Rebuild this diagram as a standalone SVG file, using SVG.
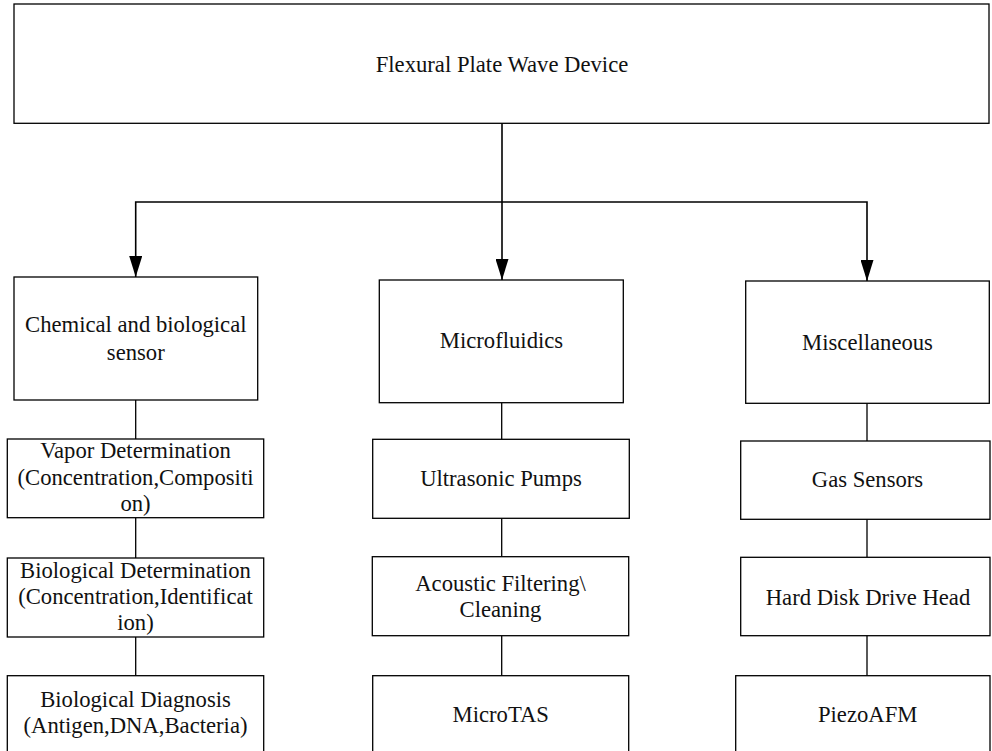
<svg xmlns="http://www.w3.org/2000/svg" width="992" height="751" viewBox="0 0 992 751">
  <style>
    .box { fill: #ffffff; stroke: #000000; stroke-width: 1.3; }
    .lbl { font-family: "Liberation Serif", "Times New Roman", serif; font-size: 22.67px; fill: #111111; text-anchor: middle; }
    .arr { fill: none; stroke: #000000; stroke-width: 1.6; }
    .ln { fill: none; stroke: #000000; stroke-width: 1.3; }
  </style>
  <defs>
    <marker id="ah" markerUnits="userSpaceOnUse" markerWidth="21" markerHeight="13" viewBox="0 0 21 13" refX="21" refY="6.5" orient="auto">
      <path d="M0,0 L21,6.5 L0,13 z" fill="#000000"/>
    </marker>
  </defs>
  <rect width="992" height="751" fill="#ffffff"/>

  <g id="connectors">
    <path class="arr" d="M502,123 V280" marker-end="url(#ah)"/>
    <path class="arr" d="M502,202 H135.7 V277" marker-end="url(#ah)"/>
    <path class="arr" d="M502,202 H867 V281" marker-end="url(#ah)"/>
    <path class="ln" d="M135.7,400 V439 M135.7,517.7 V558 M135.7,637 V675.7"/>
    <path class="ln" d="M501.7,402.7 V439.3 M501.7,518.3 V556.7 M501.7,635.7 V675.7"/>
    <path class="ln" d="M867,403.3 V441 M867,519.3 V557.3 M867,635.7 V675.7"/>
  </g>

  <g id="root">
    <rect class="box" x="14" y="4" width="975" height="119.3"/>
    <text class="lbl" x="502" y="71.7">Flexural Plate Wave Device</text>
  </g>

  <g id="chem">
    <rect class="box" x="14" y="277" width="243.7" height="123"/>
    <text class="lbl" x="135.8" y="332">Chemical and biological</text>
    <text class="lbl" x="135.8" y="360">sensor</text>
  </g>
  <g id="microfluidics">
    <rect class="box" x="379.3" y="280" width="244" height="122.7"/>
    <text class="lbl" x="501.5" y="348.3">Microfluidics</text>
  </g>
  <g id="misc">
    <rect class="box" x="745.7" y="281" width="243.6" height="122.3"/>
    <text class="lbl" x="867.5" y="350">Miscellaneous</text>
  </g>

  <g id="vapor">
    <rect class="box" x="7.3" y="439" width="256.4" height="78.7"/>
    <text class="lbl" x="135.5" y="458.3">Vapor Determination</text>
    <text class="lbl" x="135.5" y="484.7">(Concentration,Compositi</text>
    <text class="lbl" x="135.5" y="510.7">on)</text>
  </g>
  <g id="biodet">
    <rect class="box" x="7.3" y="558" width="256.4" height="79"/>
    <text class="lbl" x="135.5" y="578.3">Biological Determination</text>
    <text class="lbl" x="135.5" y="604.3">(Concentration,Identificat</text>
    <text class="lbl" x="135.5" y="630.3">ion)</text>
  </g>
  <g id="biodiag">
    <rect class="box" x="7.3" y="675.7" width="256.4" height="90"/>
    <text class="lbl" x="135.5" y="707.3">Biological Diagnosis</text>
    <text class="lbl" x="135.5" y="733.3">(Antigen,DNA,Bacteria)</text>
  </g>

  <g id="pumps">
    <rect class="box" x="372.7" y="439.3" width="256.6" height="79"/>
    <text class="lbl" x="501" y="485.7">Ultrasonic Pumps</text>
  </g>
  <g id="acoustic">
    <rect class="box" x="372.3" y="556.7" width="256.4" height="79"/>
    <text class="lbl" x="500.5" y="590.7">Acoustic Filtering\</text>
    <text class="lbl" x="500.5" y="616.7">Cleaning</text>
  </g>
  <g id="microtas">
    <rect class="box" x="372.7" y="675.7" width="256" height="90"/>
    <text class="lbl" x="500.7" y="721.7">MicroTAS</text>
  </g>

  <g id="gas">
    <rect class="box" x="740.7" y="441" width="249.3" height="78.3"/>
    <text class="lbl" x="867.5" y="487.3">Gas Sensors</text>
  </g>
  <g id="hdd">
    <rect class="box" x="740.7" y="557.3" width="249.3" height="78.4"/>
    <text class="lbl" x="868" y="605">Hard Disk Drive Head</text>
  </g>
  <g id="afm">
    <rect class="box" x="735.7" y="675.7" width="254.3" height="90"/>
    <text class="lbl" x="867.7" y="721.7">PiezoAFM</text>
  </g>
</svg>
